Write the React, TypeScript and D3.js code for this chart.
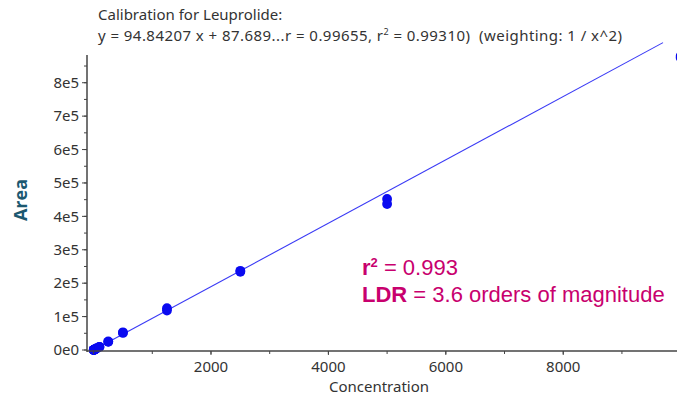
import * as d3 from 'd3';

// Calibration for Leuprolide — replicate injections per level
const concentrations = [1, 1, 5, 5, 10, 10, 25, 25, 50, 50, 100, 100, 250, 250, 500, 500, 1250, 1250, 2500, 2500, 5000, 5000, 10000, 10000];
const areas = [110, 95, 520, 480, 1000, 960, 2500, 2350, 4900, 4700, 9600, 9300, 25500, 24500, 53000, 51000, 118000, 125000, 234000, 237000, 437000, 452000, 880000, 875000];

const slope = 94.84207;
const intercept = 87.689;
const fitRange = [0, 9700];

const xTicks = [2000, 4000, 6000, 8000];
const xMinorTicks = [0, 1000, 2000, 3000, 4000, 5000, 6000, 7000, 8000, 9000];
const yTicks = [0, 100000, 200000, 300000, 400000, 500000, 600000, 700000, 800000];
const yMinorTicks = d3.range(0, 900000, 50000);

const W = 677;
const H = 397;
const plot = { left: 87, right: 677, top: 55, bottom: 350 };

const axisColor = '#444';
const tickFont = '"Noto Sans", "Open Sans", sans-serif';
const noteFont = '"Liberation Sans", Arial, sans-serif';

export default function App() {
  const x = d3.scaleLinear().domain([-112, 9938]).range([plot.left, plot.right]);
  const y = d3.scaleLinear().domain([0, 883000]).range([plot.bottom, plot.top]);

  const fitLine = d3.line<number>()
    .x((c) => x(c))
    .y((c) => y(slope * c + intercept));

  const yFmt = (v: number) => (v / 100000).toFixed(0) + 'e' + (v === 0 ? '0' : '5');

  return (
    <div style={{ position: 'fixed', left: 0, top: 0 }}>
      <svg width={W} height={H} style={{ display: 'block', background: '#fff' }}>
        {/* title */}
        <text x={98} y={20} fontFamily={tickFont} fontSize={15} fill="#333">Calibration for Leuprolide:</text>
        <text x={98} y={41} fontFamily={tickFont} fontSize={15} fill="#333" textLength={524} lengthAdjust="spacing" style={{ whiteSpace: 'pre' }}>
          {'y = 94.84207 x + 87.689...r = 0.99655, r'}
          <tspan fontSize={9} dy={-6}>2</tspan>
          <tspan dy={6}>{' = 0.99310)  (weighting: 1 / x^2)'}</tspan>
        </text>

        {/* fit line */}
        <path d={fitLine(fitRange) ?? ''} fill="none" stroke="#3a3af5" strokeWidth={1.1} />

        {/* points */}
        {concentrations.map((c, i) => (
          <circle key={i} cx={x(c)} cy={y(areas[i])} r={4.9} fill="#0a0af0" />
        ))}

        {/* y axis */}
        <line x1={plot.left} x2={plot.left} y1={plot.top} y2={plot.bottom + 2} stroke={axisColor} strokeWidth={1.5} />
        {yMinorTicks.map((v) => (
          <line key={'ym' + v} x1={plot.left - 3} x2={plot.left} y1={y(v)} y2={y(v)} stroke={axisColor} />
        ))}
        {yTicks.map((v) => (
          <g key={'y' + v}>
            <line x1={plot.left - 5} x2={plot.left} y1={y(v)} y2={y(v)} stroke={axisColor} />
            <text x={plot.left - 8} y={y(v)} dy="0.35em" textAnchor="end" fontFamily={tickFont} fontSize={15} fill="#333">
              {yFmt(v)}
            </text>
          </g>
        ))}

        {/* x axis */}
        <line x1={plot.left} x2={plot.right} y1={plot.bottom + 1} y2={plot.bottom + 1} stroke={axisColor} strokeWidth={1.5} />
        {xMinorTicks.map((v) => (
          <line key={'xm' + v} x1={x(v)} x2={x(v)} y1={plot.bottom + 1} y2={plot.bottom + 4} stroke={axisColor} />
        ))}
        {xTicks.map((v) => (
          <g key={'x' + v}>
            <line x1={x(v)} x2={x(v)} y1={plot.bottom + 1} y2={plot.bottom + 5} stroke={axisColor} />
            <text x={x(v)} y={plot.bottom + 22} textAnchor="middle" fontFamily={tickFont} fontSize={15} fill="#333">
              {v}
            </text>
          </g>
        ))}

        {/* axis titles */}
        <text x={(plot.left + plot.right) / 2 - 3} y={392} textAnchor="middle" fontFamily={tickFont} fontSize={15} fill="#333">
          Concentration
        </text>
        <text
          transform={`translate(27, 200) rotate(-90)`}
          textAnchor="middle"
          fontFamily='"Open Sans", "Noto Sans", sans-serif'
          fontSize={18}
          fontWeight="bold"
          fill="#1c5870"
        >
          Area
        </text>

        {/* annotation */}
        <text x={362} y={275} fontFamily={noteFont} fontSize={22} fill="#c8006e" style={{ whiteSpace: 'pre' }}>
          <tspan fontWeight="bold">r</tspan>
          <tspan fontWeight="bold" fontSize={13} dy={-8}>2</tspan>
          <tspan dy={8}>{' = 0.993'}</tspan>
        </text>
        <text x={362} y={302} fontFamily={noteFont} fontSize={22} fill="#c8006e" style={{ whiteSpace: 'pre' }}>
          <tspan fontWeight="bold">LDR</tspan>
          <tspan>{' = 3.6 orders of magnitude'}</tspan>
        </text>
      </svg>
    </div>
  );
}
